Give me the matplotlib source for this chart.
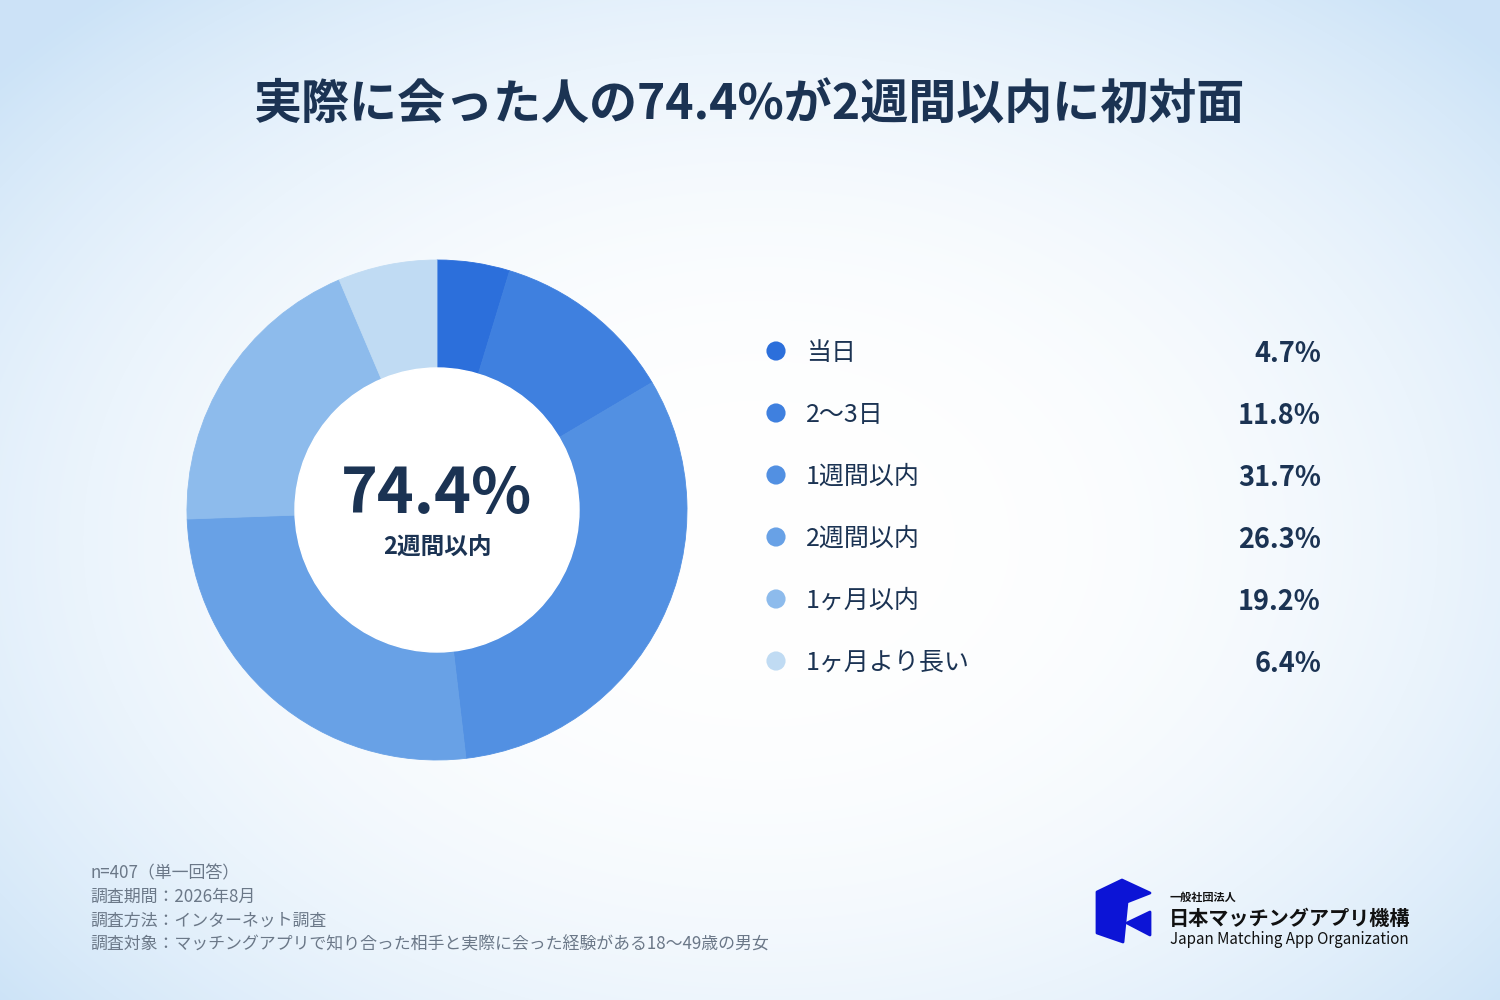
import numpy as np
import matplotlib
matplotlib.use("Agg")
import matplotlib.pyplot as plt
from matplotlib.patches import Polygon, Circle

plt.rcParams['font.family'] = ['Noto Sans CJK JP', 'DejaVu Sans']

# data
labels = ["当日", "2〜3日", "1週間以内", "2週間以内", "1ヶ月以内", "1ヶ月より長い"]
shares = [4.7, 11.8, 31.7, 26.3, 19.2, 6.4]
colors = ["#2c6fdb", "#3f80df", "#5290e2", "#68a1e6", "#8dbbec", "#c0dbf3"]
center_value = "74.4%"
center_label = "2週間以内"
title = "実際に会った人の74.4%が2週間以内に初対面"
notes = [
    "n=407（単一回答）",
    "調査期間：2026年8月",
    "調査方法：インターネット調査",
    "調査対象：マッチングアプリで知り合った相手と実際に会った経験がある18〜49歳の男女",
]

navy = "#1b3353"
W, H = 1500, 1000

fig = plt.figure(figsize=(15, 10), dpi=100)

# background gradient
bg = fig.add_axes([0, 0, 1, 1], zorder=-10)
yy, xx = np.mgrid[0:H, 0:W]
d = np.sqrt(((xx - 760) / 1000) ** 2 + ((yy - 540) / 720) ** 2)
d = np.clip(d, 0, 1) ** 2.4
c0 = np.array([1.0, 1.0, 1.0])
c1 = np.array([0.80, 0.89, 0.97])
img = c0[None, None, :] * (1 - d[..., None]) + c1[None, None, :] * d[..., None]
bg.imshow(img, extent=[0, W, H, 0], aspect='auto', interpolation='bilinear')
bg.set_xlim(0, W)
bg.set_ylim(H, 0)
bg.axis('off')

# title
fig.text(0.5, 1 - 105 / H, title, ha='center', va='center', fontsize=34.6,
         fontweight='bold', color=navy)

# donut
cx, cy, r_out, r_in = 437, 510, 250, 142
ax = fig.add_axes([(cx - r_out) / W, 1 - (cy + r_out) / H, 2 * r_out / W, 2 * r_out / H])
wedges, _ = ax.pie(shares, colors=colors, startangle=90, counterclock=False, radius=1,
                   wedgeprops=dict(width=1 - r_in / r_out, linewidth=0.6))
for w, col in zip(wedges, colors):
    w.set_edgecolor(col)
ax.add_patch(Circle((0, 0), r_in / r_out, color='white', zorder=3))
ax.set_xlim(-1, 1)
ax.set_ylim(-1, 1)
ax.set_aspect('equal')
ax.axis('off')
ax.text(0, 0.06, center_value, ha='center', va='center', fontsize=45,
        fontweight='bold', color=navy, zorder=4)
ax.text(0, -0.15, center_label, ha='center', va='center', fontsize=17,
        fontweight='bold', color=navy, zorder=4)

# legend
for i, (lab, val, col) in enumerate(zip(labels, shares, colors)):
    py = 351 + 62 * i
    y = 1 - py / H
    bg.scatter([776], [py], s=190, color=col, edgecolors='none', zorder=5)
    fig.text(806 / W, y - 0.002, lab, ha='left', va='center', fontsize=18, color=navy)
    fig.text(1321 / W, y - 0.003, f"{val:.1f}%", ha='right', va='center', fontsize=19.5,
             fontweight='bold', color=navy)

# notes
for i, line in enumerate(notes):
    fig.text(90 / W, 1 - (873 + 24 * i) / H, line, ha='left', va='center',
             fontsize=12.2, color="#6b7888")

# logo
logo_blue = "#0c14d6"
body = [(1097, 892), (1122, 880), (1150, 893), (1127, 902), (1123, 942), (1097, 933)]
tri = [(1127, 923), (1150, 912), (1150, 935)]
bg.add_patch(Polygon(body, closed=True, color=logo_blue, joinstyle='round', lw=2, zorder=5))
bg.add_patch(Polygon(tri, closed=True, color=logo_blue, joinstyle='round', lw=2, zorder=5))
fig.text(1170 / W, 1 - 897 / H, "一般社団法人", ha='left', va='center', fontsize=8,
         fontweight='bold', color="#111111")
fig.text(1169 / W, 1 - 918 / H, "日本マッチングアプリ機構", ha='left', va='center', fontsize=14.5,
         fontweight='bold', color="#111111")
fig.text(1170 / W, 1 - 939 / H, "Japan Matching App Organization", ha='left', va='center',
         fontsize=10.9, color="#111111")

fig.savefig("out.png", dpi=100)
